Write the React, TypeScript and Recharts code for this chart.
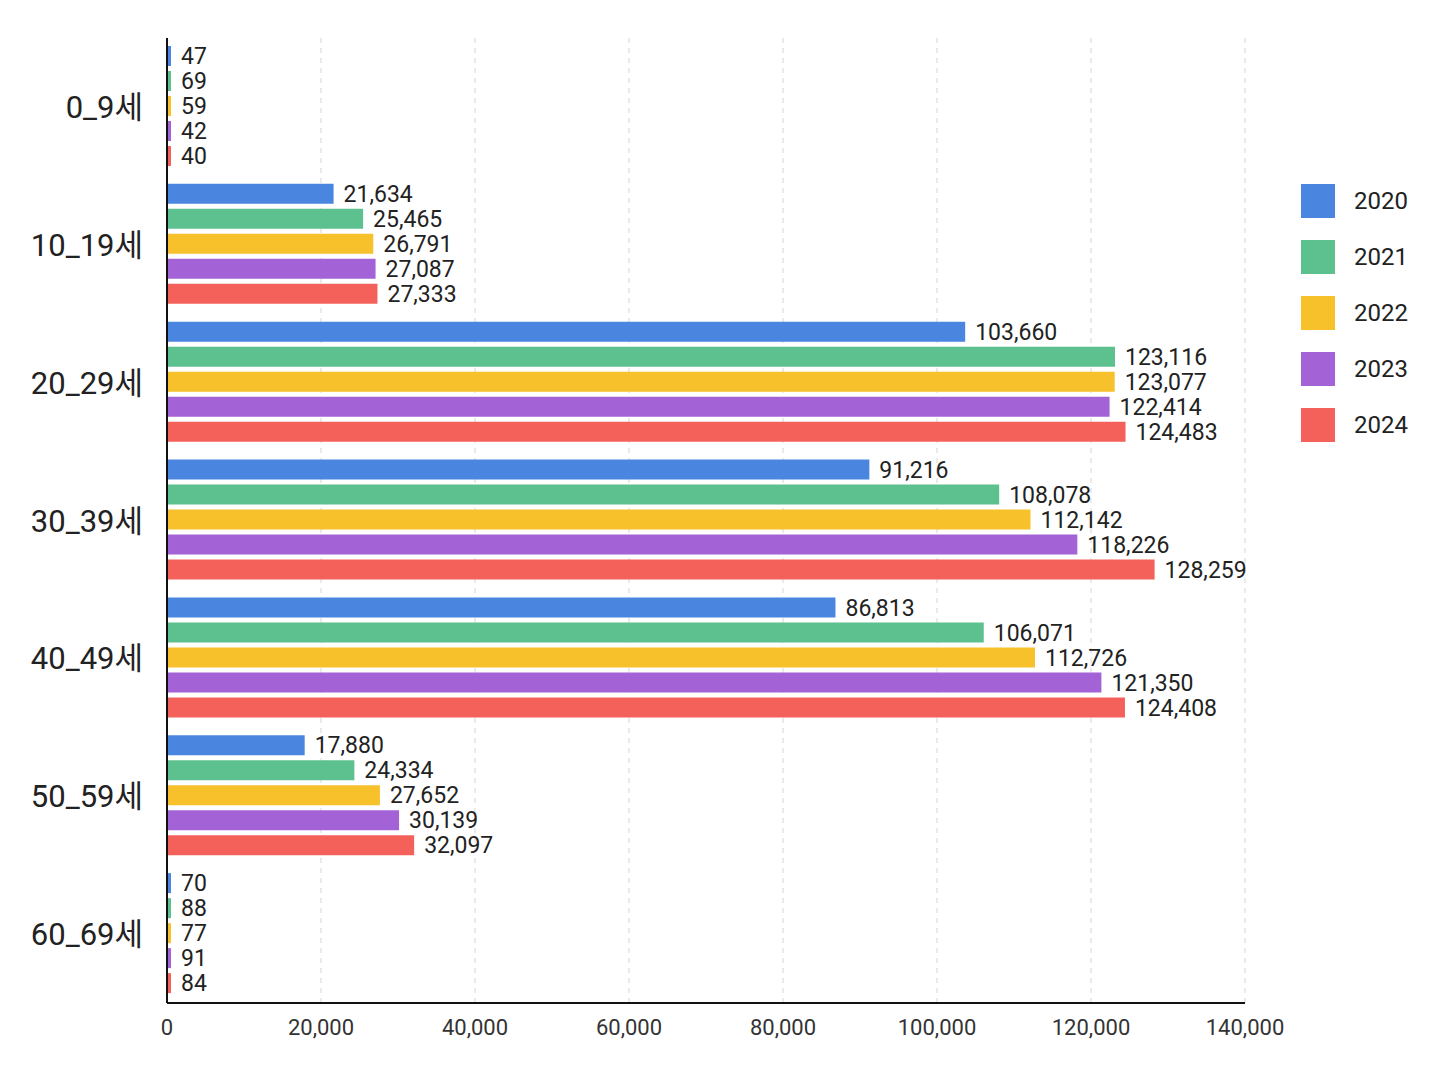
import { BarChart, Bar, XAxis, YAxis, CartesianGrid, LabelList } from "recharts";

const ages = ["0_9세", "10_19세", "20_29세", "30_39세", "40_49세", "50_59세", "60_69세"];
const years = ["2020", "2021", "2022", "2023", "2024"];
const colors = ["#4a86e0", "#5cc08f", "#f7c12b", "#a363d6", "#f4605a"];
const v2020 = [47, 21634, 103660, 91216, 86813, 17880, 70];
const v2021 = [69, 25465, 123116, 108078, 106071, 24334, 88];
const v2022 = [59, 26791, 123077, 112142, 112726, 27652, 77];
const v2023 = [42, 27087, 122414, 118226, 121350, 30139, 91];
const v2024 = [40, 27333, 124483, 128259, 124408, 32097, 84];
const xTicks = [0, 20000, 40000, 60000, 80000, 100000, 120000, 140000];

const series = [v2020, v2021, v2022, v2023, v2024];
const data = ages.map((a, i) => {
  const row: Record<string, string | number> = { age: a };
  years.forEach((y, j) => (row[y] = series[j][i]));
  return row;
});

const font = "Roboto, 'Noto Sans CJK KR', sans-serif";

function LegendBox() {
  return (
    <div style={{ position: "absolute", left: 1293, top: 165, fontFamily: font }}>
      {years.map((y, i) => (
        <div key={y} style={{ display: "flex", alignItems: "center", height: 56 }}>
          <div style={{ width: 34, height: 34, background: colors[i], marginRight: 19 }} />
          <span style={{ fontSize: 24, color: "#222" }}>{y}</span>
        </div>
      ))}
    </div>
  );
}

export default function App() {
  return (
    <div style={{ background: "#fff", fontFamily: font, position: "relative" }}>
      <BarChart
        width={1432}
        height={1070}
        data={data}
        layout="vertical"
        margin={{ top: 30, right: 195, left: 0, bottom: 45 }}
        barCategoryGap={8}
        barGap={5}
      >
        <CartesianGrid horizontal={false} vertical strokeDasharray="5 5" stroke="#d6d6d6" />
        <XAxis
          type="number"
          domain={[0, 140000]}
          ticks={xTicks}
          tickFormatter={(v) => v.toLocaleString("en-US")}
          axisLine={{ stroke: "#111", strokeWidth: 2 }}
          tickLine={false}
          tick={{ fontSize: 22, fill: "#333", fontFamily: font }}
          tickMargin={10}
          interval={0}
        />
        <YAxis
          type="category"
          dataKey="age"
          width={159}
          axisLine={{ stroke: "#111", strokeWidth: 2 }}
          tickLine={false}
          tick={{ fontSize: 31, fill: "#222", fontFamily: font }}
          tickMargin={18}
        />
        {years.map((y, i) => (
          <Bar key={y} dataKey={y} fill={colors[i]} minPointSize={4} isAnimationActive={false}>
            <LabelList
              dataKey={y}
              position="right"
              offset={10}
              formatter={(v: number) => v.toLocaleString("en-US")}
              style={{ fontSize: 23, fill: "#222", fontFamily: font }}
            />
          </Bar>
        ))}
      </BarChart>
      <LegendBox />
    </div>
  );
}
